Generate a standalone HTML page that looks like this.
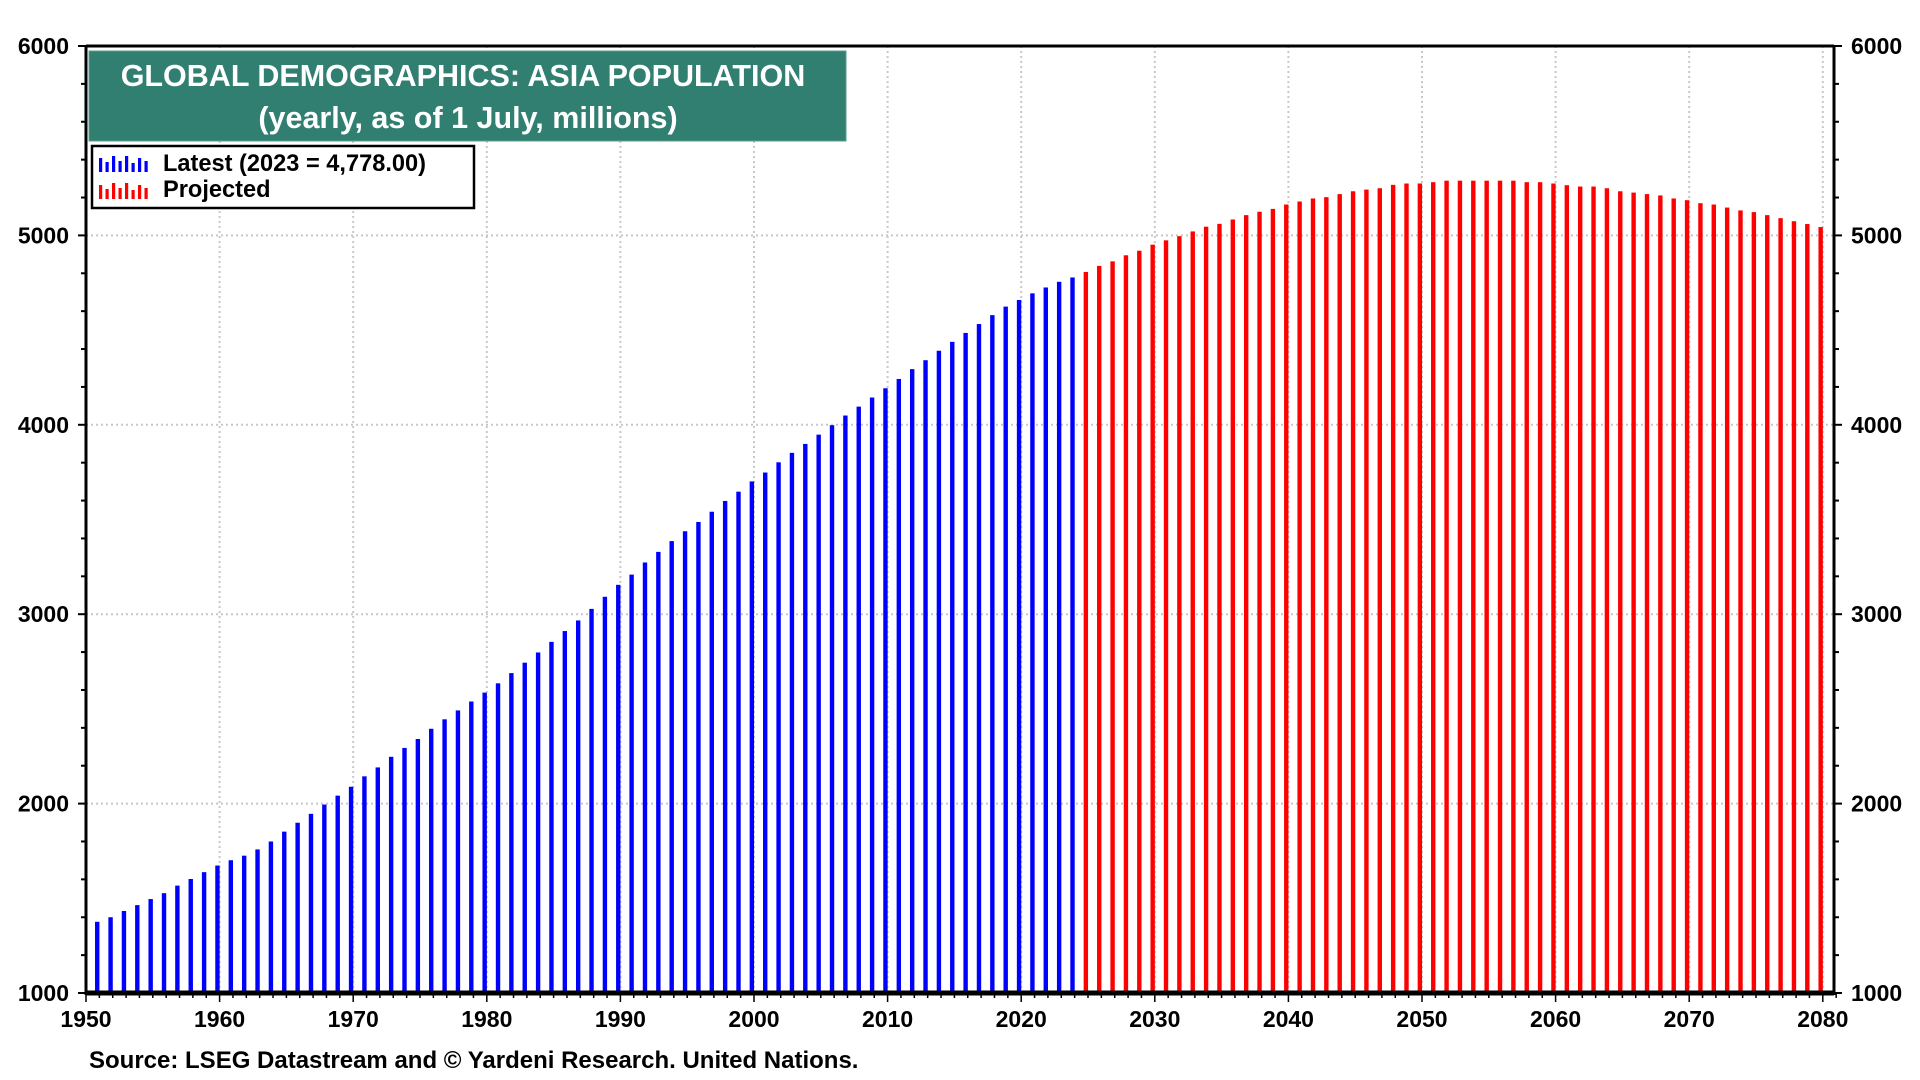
<!DOCTYPE html>
<html><head><meta charset="utf-8"><style>
html,body{margin:0;padding:0;background:#fff;}
svg{display:block;font-family:"Liberation Sans",Arial,sans-serif;font-weight:bold;}
</style></head><body>
<svg id="chart" width="1920" height="1080" viewBox="0 0 1920 1080">
<g id="grid"></g>
<g id="bars"></g>
<g id="axes"></g>
<g>
<rect x="89" y="51" width="757" height="90" fill="#317f71" stroke="#5c9c90" stroke-width="1"/>
<text x="463" y="86" text-anchor="middle" font-size="30.5" fill="#fff">GLOBAL DEMOGRAPHICS: ASIA POPULATION</text>
<text x="468" y="128" text-anchor="middle" font-size="30.5" fill="#fff">(yearly, as of 1 July, millions)</text>
</g>
<g>
<rect x="92" y="146" width="382" height="62" fill="#fff" stroke="#000" stroke-width="2.5"/>
<g id="legIcons"></g>
<text x="163" y="171" font-size="23.6" fill="#000">Latest (2023 = 4,778.00)</text>
<text x="163" y="197" font-size="23.6" fill="#000">Projected</text>
</g>
<text x="89" y="1068" font-size="24" fill="#000">Source: LSEG Datastream and © Yardeni Research. United Nations.</text>
</svg>
<script>
const yearsLatestStart = 1950;
const latestValues = [1376,1400,1433,1464,1496,1527,1567,1602,1638,1673,
1701,1725,1758,1800,1852,1899,1946,1995,2042,2089,
2144,2191,2247,2294,2341,2395,2445,2492,2539,2586,
2635,2689,2744,2798,2854,2911,2967,3028,3092,3155,
3209,3273,3329,3386,3438,3487,3541,3598,3647,3701,
3748,3802,3852,3899,3948,3998,4049,4096,4144,4193,
4242,4294,4341,4391,4438,4485,4532,4579,4624,4659,
4694,4725,4755,4778];
const projectedStart = 2024;
const projectedValues = [4807,4839,4863,4895,4919,4951,4974,4996,5021,5046,
5061,5084,5107,5125,5140,5163,5179,5195,5202,5218,
5233,5242,5249,5267,5274,5274,5281,5289,5289,5289,
5289,5289,5289,5281,5281,5274,5265,5258,5258,5249,
5233,5226,5218,5211,5195,5186,5170,5163,5147,5132,
5123,5107,5091,5075,5060,5044];
const yTicks = [1000,2000,3000,4000,5000,6000];
const xTickYears = [1950,1960,1970,1980,1990,2000,2010,2020,2030,2040,2050,2060,2070,2080];

const NS="http://www.w3.org/2000/svg";
const L=86,R=1834,T=46,B=993,X0=86,PX=13.36;
const x=yr=>X0+(yr-1950)*PX;
const y=v=>B-(v-1000)*(B-T)/5000;
function mk(tag,attrs,parent){const e=document.createElementNS(NS,tag);for(const k in attrs)e.setAttribute(k,attrs[k]);parent.appendChild(e);return e;}
const grid=document.getElementById('grid'),bars=document.getElementById('bars'),axes=document.getElementById('axes');
yTicks.forEach(v=>{
 if(v>1000&&v<6000){const g=mk('line',{x1:L,x2:R,y1:y(v),y2:y(v),stroke:'#c8c8c8','stroke-width':2,'stroke-dasharray':'2,3'},grid);
 
 }
 const t1=mk('text',{x:69,y:y(v)+8,'text-anchor':'end','font-size':23},axes);t1.textContent=v;
 
 
 const t2=mk('text',{x:1851,y:y(v)+8,'font-size':23},axes);t2.textContent=v;
 
 
});
xTickYears.forEach(yr=>{
 if(yr>1950){const g=mk('line',{x1:x(yr),x2:x(yr),y1:T,y2:B,stroke:'#c8c8c8','stroke-width':2,'stroke-dasharray':'2,3'},grid);
 
 }
 const t=mk('text',{x:x(yr),y:1027,'text-anchor':'middle','font-size':23},axes);t.textContent=yr;
 
 
});
latestValues.forEach((v,i)=>{
 const xx=x(yearsLatestStart+i+0.84);
 const b=mk('rect',{x:xx-2.2,y:y(v),width:4.4,height:B-y(v),fill:'#0000ff'},bars);
 
 
});
projectedValues.forEach((v,i)=>{
 const xx=x(projectedStart+i+0.84);
 const b=mk('rect',{x:xx-2.2,y:y(v),width:4.4,height:B-y(v),fill:'#ff0000'},bars);
 
 
});
for(let v=1000;v<=6000;v+=200){const l=v%1000===0?8:5;
 mk('line',{x1:L-l,x2:L,y1:y(v),y2:y(v),stroke:'#000','stroke-width':2},axes);
 mk('line',{x1:R,x2:R+l,y1:y(v),y2:y(v),stroke:'#000','stroke-width':2},axes);}
for(let yr=1950;yr<=2081;yr++){const l=yr%10===0?9:5;
 mk('line',{x1:x(yr),x2:x(yr),y1:B,y2:B+l,stroke:'#000','stroke-width':1.5},axes);}
mk('line',{x1:L,x2:R,y1:T,y2:T,stroke:'#000','stroke-width':3},axes);
mk('line',{x1:L,x2:L,y1:T-1,y2:B+2,stroke:'#000','stroke-width':3},axes);
mk('line',{x1:R,x2:R,y1:T-1,y2:B+2,stroke:'#000','stroke-width':3},axes);
mk('line',{x1:L,x2:R,y1:B,y2:B,stroke:'#000','stroke-width':5},axes);
const li=document.getElementById('legIcons');
const hb=[14,10,16,11,16,9,14,11];
hb.forEach((h,i)=>{
 mk('rect',{x:99+i*6.5,y:172-h,width:3.2,height:h,fill:'#0000ff'},li);
 mk('rect',{x:99+i*6.5,y:199-h,width:3.2,height:h,fill:'#ff0000'},li);
});
</script>
</body></html>
